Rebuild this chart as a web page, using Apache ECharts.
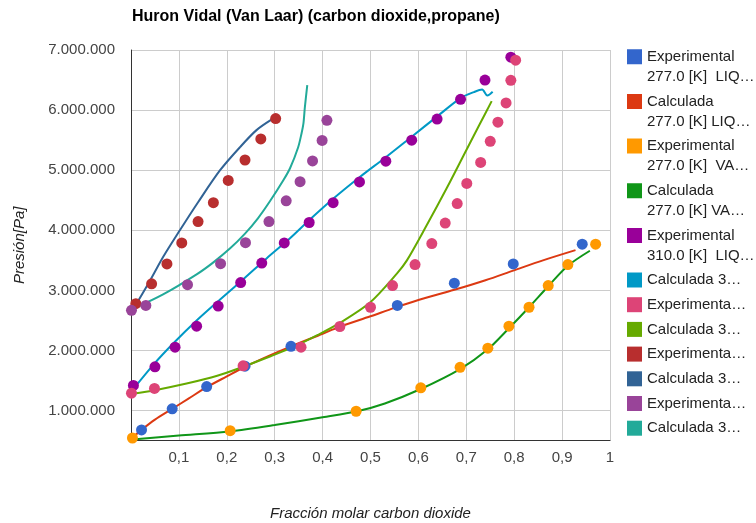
<!DOCTYPE html>
<html><head><meta charset="utf-8">
<script src="https://cdn.jsdelivr.net/npm/echarts@6/dist/echarts.min.js"></script>
<style>html,body{margin:0;padding:0;background:#fff}#c{width:756px;height:523px}</style>
</head><body><div id="c"></div>
<script>
const chartTitle = 'Huron Vidal (Van Laar) (carbon dioxide,propane)';
const xTitle = 'Fracción molar carbon dioxide';
const yTitle = 'Presión[Pa]';

const seriesNames = [
  'Experimental 277.0 [K] LIQ', 'Calculada 277.0 [K] LIQ',
  'Experimental 277.0 [K] VAP', 'Calculada 277.0 [K] VAP',
  'Experimental 310.0 [K] LIQ', 'Calculada 310.0 [K] LIQ',
  'Experimental 310.0 [K] VAP', 'Calculada 310.0 [K] VAP',
  'Experimental T3 LIQ', 'Calculada T3 LIQ',
  'Experimental T3 VAP', 'Calculada T3 VAP'
];
const legendLabels = [
  'Experimental\n277.0 [K]  LIQ…', 'Calculada\n277.0 [K] LIQ…',
  'Experimental\n277.0 [K]  VA…', 'Calculada\n277.0 [K] VA…',
  'Experimental\n310.0 [K]  LIQ…', 'Calculada 3…',
  'Experimenta…', 'Calculada 3…',
  'Experimenta…', 'Calculada 3…',
  'Experimenta…', 'Calculada 3…'
];
const seriesKinds = ['scatter','line','scatter','line','scatter','line','scatter','line','scatter','line','scatter','line'];
const colors = ['#3366cc','#dc3912','#ff9900','#109618','#990099','#0099c6','#dd4477','#66aa00','#b82e2e','#316395','#994499','#22aa99'];

const exp277Liq = [[0.022,680000],[0.086,1030000],[0.158,1400000],[0.238,1740000],[0.334,2070000],[0.556,2750000],[0.675,3120000],[0.798,3440000],[0.942,3770000]];
const calc277Liq = [[0.003,550000],[0.022,680000],[0.05,850000],[0.086,1030000],[0.12,1200000],[0.158,1390000],[0.2,1570000],[0.238,1730000],[0.29,1920000],[0.334,2070000],[0.4,2280000],[0.434,2390000],[0.5,2570000],[0.55,2710000],[0.6,2840000],[0.675,3010000],[0.74,3170000],[0.798,3330000],[0.86,3500000],[0.928,3670000]];
const exp277Vap = [[0.003,545000],[0.207,667000],[0.470,990000],[0.605,1380000],[0.687,1720000],[0.745,2040000],[0.789,2405000],[0.831,2720000],[0.871,3080000],[0.912,3430000],[0.970,3770000]];
const calc277Vap = [[0.003,520000],[0.1,585000],[0.207,655000],[0.3,760000],[0.4,890000],[0.47,985000],[0.53,1120000],[0.605,1360000],[0.687,1690000],[0.745,2020000],[0.789,2370000],[0.831,2720000],[0.871,3070000],[0.912,3410000],[0.958,3660000]];
const exp310Liq = [[0.005,1420000],[0.05,1730000],[0.092,2055000],[0.137,2405000],[0.182,2740000],[0.229,3130000],[0.273,3455000],[0.320,3790000],[0.372,4130000],[0.422,4460000],[0.477,4805000],[0.532,5150000],[0.586,5500000],[0.639,5850000],[0.688,6180000],[0.739,6500000],[0.793,6880000]];
const calc310Liq = [[0.005,1362000],[0.047,1767000],[0.088,2117000],[0.137,2500000],[0.186,2850000],[0.234,3183000],[0.283,3533000],[0.332,3867000],[0.374,4183000],[0.422,4525000],[0.477,4883000],[0.532,5217000],[0.586,5558000],[0.640,5900000],[0.688,6200000],[0.716,6300000],[0.733,6342000],[0.744,6242000],[0.755,6305000]];
const exp310Vap = [[0.001,1290000],[0.049,1370000],[0.234,1745000],[0.355,2055000],[0.436,2400000],[0.5,2720000],[0.546,3080000],[0.593,3430000],[0.628,3780000],[0.656,4120000],[0.681,4445000],[0.701,4780000],[0.730,5130000],[0.750,5480000],[0.766,5800000],[0.783,6120000],[0.793,6495000],[0.803,6830000]];
const calc310Vap = [[0.003,1280000],[0.05,1340000],[0.116,1450000],[0.18,1580000],[0.234,1730000],[0.29,1900000],[0.339,2060000],[0.39,2260000],[0.436,2460000],[0.499,2800000],[0.555,3280000],[0.576,3500000],[0.617,4080000],[0.659,4700000],[0.701,5350000],[0.729,5780000],[0.753,6150000]];
const exp3Liq = [[0.010,2780000],[0.043,3110000],[0.075,3440000],[0.106,3790000],[0.140,4145000],[0.172,4460000],[0.203,4830000],[0.238,5170000],[0.271,5520000],[0.302,5860000]];
const calc3Liq = [[0.005,2695000],[0.04,3167000],[0.067,3555000],[0.102,4000000],[0.14,4467000],[0.186,5000000],[0.228,5388000],[0.262,5667000],[0.294,5845000]];
const exp3Vap = [[0.001,2670000],[0.031,2750000],[0.118,3095000],[0.187,3445000],[0.239,3795000],[0.288,4145000],[0.324,4490000],[0.353,4810000],[0.379,5155000],[0.399,5495000],[0.409,5830000]];
const calc3Vap = [[0.005,2695000],[0.067,2933000],[0.137,3267000],[0.172,3467000],[0.207,3700000],[0.238,3945000],[0.265,4200000],[0.29,4483000],[0.318,4833000],[0.332,5033000],[0.349,5383000],[0.356,5612000],[0.36,5778000],[0.363,6050000],[0.368,6417000]];

const seriesData = [exp277Liq, calc277Liq, exp277Vap, calc277Vap, exp310Liq, calc310Liq, exp310Vap, calc310Vap, exp3Liq, calc3Liq, exp3Vap, calc3Vap];

const xMin = 0, xMax = 1, xStep = 0.1;
const yMin = 500000, yMax = 7000000, yStep = 1000000;

const FONT = '"Liberation Sans", Arial, sans-serif';

const series = seriesData.map((d, i) => {
  const base = { name: seriesNames[i], data: d, color: colors[i], z: 2 };
  if (seriesKinds[i] === 'scatter') {
    return Object.assign(base, { type: 'scatter', symbolSize: 11, itemStyle: { color: colors[i], opacity: 1 } });
  }
  return Object.assign(base, { type: 'line', showSymbol: false, symbol: 'none', smooth: 0.3,
    lineStyle: { color: colors[i], width: 2 } });
});

function legendFmt(name) { return legendLabels[seriesNames.indexOf(name)]; }

const chart = echarts.init(document.getElementById('c'), null, { renderer: 'canvas' });
chart.setOption({
  animation: false,
  backgroundColor: '#fff',
  title: { text: chartTitle, left: 127, top: 4,
    textStyle: { fontFamily: FONT, fontSize: 16, fontWeight: 'bold', color: '#000' } },
  grid: { left: 131, right: 146, top: 50, bottom: 82.3, containLabel: false, outerBoundsMode: 'none' },
  legend: [
    { orient: 'vertical', left: 622, top: 41.7, itemWidth: 15, itemHeight: 35, itemGap: 4.7,
      icon: 'path://M0,0H15V15H0Z M0,35L0.01,35', selectedMode: false,
      data: seriesNames.slice(0, 5), formatter: legendFmt,
      itemStyle: { borderWidth: 0 },
      textStyle: { fontFamily: FONT, fontSize: 15, lineHeight: 20, color: '#222' } },
    { orient: 'vertical', left: 622, top: 267.5, itemWidth: 15, itemHeight: 15, itemGap: 9.7,
      icon: 'rect', selectedMode: false,
      data: seriesNames.slice(5), formatter: legendFmt,
      itemStyle: { borderWidth: 0 },
      textStyle: { fontFamily: FONT, fontSize: 15, lineHeight: 15, color: '#222' } }
  ],
  xAxis: {
    type: 'value', min: xMin, max: xMax, interval: xStep,
    name: xTitle, nameLocation: 'middle', nameGap: 66,
    nameTextStyle: { fontFamily: FONT, fontSize: 15, fontStyle: 'italic', color: '#222' },
    axisLine: { show: true, onZero: false, lineStyle: { color: '#333', width: 1 } },
    axisTick: { show: false },
    axisLabel: { showMinLabel: false, margin: 10, fontFamily: FONT, fontSize: 15, color: '#444',
      formatter: v => String(+v.toFixed(1)).replace('.', ',') },
    splitLine: { show: true, lineStyle: { color: '#cccccc', width: 1 } }
  },
  yAxis: {
    type: 'value', min: yMin, max: yMax, splitNumber: 7, minInterval: yStep, maxInterval: yStep,
    name: yTitle, nameLocation: 'middle', nameGap: 104,
    nameTextStyle: { fontFamily: FONT, fontSize: 15, fontStyle: 'italic', color: '#222' },
    axisLine: { show: true, onZero: false, lineStyle: { color: '#333', width: 1 } },
    axisTick: { show: false },
    axisLabel: { showMinLabel: false, margin: 16, fontFamily: FONT, fontSize: 15, color: '#444',
      formatter: v => (v === yMin ? '' : String(Math.round(v)).replace(/\B(?=(\d{3})+(?!\d))/g, '.')) },
    splitLine: { show: true, lineStyle: { color: '#cccccc', width: 1 } }
  },
  series: series
});
</script>
</body></html>
